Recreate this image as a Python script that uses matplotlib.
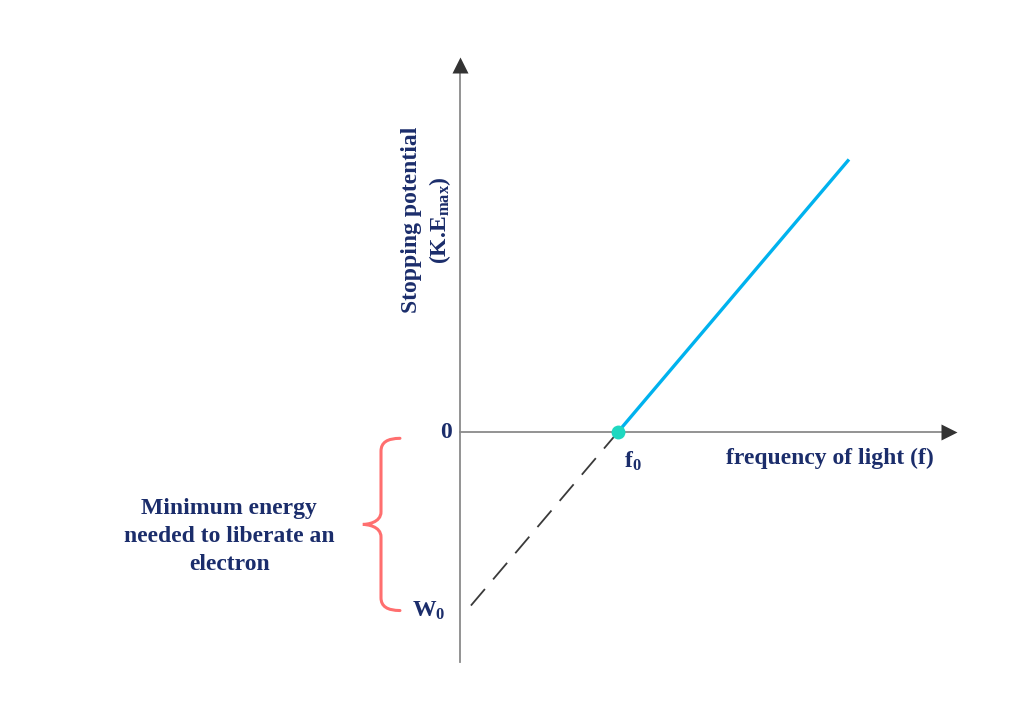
import matplotlib
matplotlib.use("Agg")
import matplotlib.pyplot as plt
import numpy as np
from matplotlib.path import Path
from matplotlib.patches import PathPatch

plt.rcParams["font.family"] = ["Liberation Serif", "DejaVu Serif"]
plt.rcParams["font.weight"] = "bold"
plt.rcParams["mathtext.fontset"] = "custom"
plt.rcParams["mathtext.rm"] = "Liberation Serif:bold"
plt.rcParams["mathtext.it"] = "Liberation Serif:bold"
plt.rcParams["mathtext.default"] = "rm"

# photoelectric line: K.E = h*f - W0 (arbitrary units)
f0 = 2.0
f_end = 4.91
w0 = -2.36
slope = -w0 / f0
dash_start = 0.06

x_label = "frequency of light (f)"
y_label = "Stopping potential\n(K.E$_{max}$)"
brace_text = "Minimum energy\nneeded to liberate an\nelectron"

navy = "#1b2d6b"
blue = "#00b2ee"
dot_col = "#1ed8c0"
brace_col = "#ff6f6f"
fs = 17

fig = plt.figure(figsize=(10.24, 7.19), dpi=100)
ax = fig.add_axes([0, 0, 1, 1])
ax.set_xlim(-460 / 79, (1024 - 460) / 79)
ax.set_ylim(-(719 - 432) / 79, 432 / 79)
ax.axis("off")

# axes with arrows
y_bot, y_top = -2.91, 4.73
x_right = 6.28
ax.plot([0, 0], [y_bot, y_top - 0.1], color="#8a8a8a", lw=1.3, zorder=1)
ax.plot([0, x_right - 0.1], [0, 0], color="#8a8a8a", lw=1.3, zorder=1)
ax.plot(0, y_top - 0.09, marker="^", ms=11, color="#333333", mec="none", zorder=2)
ax.plot(x_right - 0.09, 0, marker=">", ms=11, color="#333333", mec="none", zorder=2)

# solid part above threshold
xs = np.array([f0, f_end])
ax.plot(xs, slope * xs + w0, color=blue, lw=2.4, zorder=3)
# dashed extrapolation down to -W0
xd = np.array([f0, dash_start])
ax.plot(xd, slope * xd + w0, color="#3a3a3a", lw=1.3, dashes=(12, 7), zorder=2)
ax.plot(f0, 0, "o", ms=10, color=dot_col, mec="none", zorder=4)

# labels
ax.text(-0.1, 0, "0", color=navy, fontsize=fs, ha="right", va="center")
ax.text(-0.19, w0 + 0.1, "W$_0$", color=navy, fontsize=fs, ha="right", va="center")
ax.text(f0 + 0.08, -0.37, "f$_0$", color=navy, fontsize=fs, ha="left", va="center")
ax.text(3.37, -0.33, x_label, color=navy, fontsize=fs, ha="left", va="center")
ax.text(-0.42, 2.68, y_label, color=navy, fontsize=fs, ha="center", va="center",
        rotation=90, linespacing=1.25)

# curly brace next to the negative part of the y axis
bx_tip, bx_body, bx_point = -0.76, -1.0, -1.23
b_top, b_bot = -0.08, w0 + 0.1
b_mid = (b_top + b_bot) / 2
r = 0.16
verts = [
    (bx_tip, b_top), (bx_body, b_top), (bx_body, b_top - r),
    (bx_body, b_mid + r),
    (bx_body, b_mid + 0.02), (bx_point + 0.05, b_mid), (bx_point, b_mid),
    (bx_point + 0.05, b_mid), (bx_body, b_mid - 0.02), (bx_body, b_mid - r),
    (bx_body, b_bot + r),
    (bx_body, b_bot), (bx_tip, b_bot),
]
codes = [Path.MOVETO, Path.CURVE3, Path.CURVE3,
         Path.LINETO,
         Path.CURVE4, Path.CURVE4, Path.CURVE4,
         Path.CURVE4, Path.CURVE4, Path.CURVE4,
         Path.LINETO,
         Path.CURVE3, Path.CURVE3]
ax.add_patch(PathPatch(Path(verts, codes), fill=False, ec=brace_col, lw=2.2,
                       capstyle="round"))

ax.text(-2.92, -1.32, brace_text, color=navy, fontsize=fs, ha="center",
        va="center", linespacing=1.45)

fig.savefig("out.png", dpi=100, facecolor="white")
